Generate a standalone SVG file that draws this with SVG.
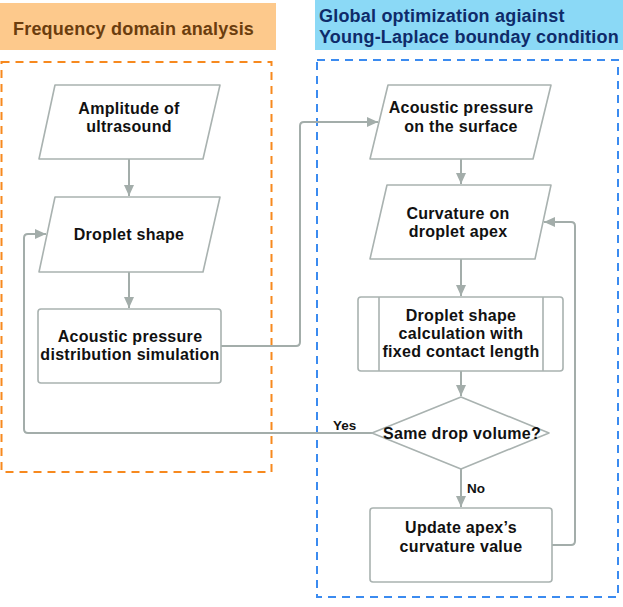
<svg xmlns="http://www.w3.org/2000/svg" width="623" height="607" viewBox="0 0 623 607">
<defs>
<marker id="ah" markerUnits="userSpaceOnUse" markerWidth="11" markerHeight="10" refX="11" refY="5" orient="auto">
<path d="M0,0 L11,5 L0,10 z" fill="#a3adaa"/>
</marker>
<style>
.node{fill:#fff;stroke:#a9b2b0;stroke-width:1.6;stroke-linejoin:round}
.t{font-family:"Liberation Sans",Arial,sans-serif;font-weight:bold;font-size:16px;letter-spacing:0.3px;fill:#111;text-anchor:middle}
.lbl{font-family:"Liberation Sans",Arial,sans-serif;font-weight:bold;font-size:13.5px;fill:#111}
.hd{font-family:"Liberation Sans",Arial,sans-serif;font-weight:bold;font-size:18px;letter-spacing:0.2px}
.con{fill:none;stroke:#a3adaa;stroke-width:2}
</style>
</defs>
<rect width="623" height="607" fill="#fff"/>
<g id="hdr-left">
<rect x="0" y="3" width="276" height="47" fill="#fdc98c"/>
<text class="hd" x="13" y="35" fill="#6b3d0e">Frequency domain analysis</text>
</g>
<g id="hdr-right">
<rect x="315" y="0" width="308" height="50" fill="#8bd9f6"/>
<text class="hd" x="319" y="22" fill="#0e2b6a">Global optimization agiainst</text>
<text class="hd" x="319" y="43" fill="#0e2b6a">Young-Laplace bounday condition</text>
</g>
<g id="group-left">
<rect x="1.5" y="62" width="270" height="410" fill="none" stroke="#f7891e" stroke-width="2" stroke-dasharray="8,6"/>
</g>
<g id="group-right">
<rect x="317" y="60" width="301" height="537" fill="none" stroke="#3b8bf0" stroke-width="2" stroke-dasharray="8,6"/>
</g>
<g id="connectors">
<path class="con" d="M129,159 V196" marker-end="url(#ah)"/>
<path class="con" d="M129,272 V308" marker-end="url(#ah)"/>
<path class="con" d="M221,346 H296 Q300,346 300,342 V126 Q300,122 304,122 H378" marker-end="url(#ah)"/>
<path class="con" d="M461,159 V184" marker-end="url(#ah)"/>
<path class="con" d="M461,259 V296" marker-end="url(#ah)"/>
<path class="con" d="M461,371 V396" marker-end="url(#ah)"/>
<path class="con" d="M461,469 V507" marker-end="url(#ah)"/>
<path class="con" d="M372,433 H28 Q24,433 24,429 V238 Q24,234 28,234 H46" marker-end="url(#ah)"/>
<path class="con" d="M552,545 H571 Q575,545 575,541 V226 Q575,222 571,222 H544" marker-end="url(#ah)"/>
</g>
<g id="n-amplitude">
<path class="node" d="M55,85 H220 L203,159 H39 Z"/>
<text class="t" x="129" y="114">Amplitude of</text>
<text class="t" x="129" y="132">ultrasound</text>
</g>
<g id="n-droplet-shape">
<path class="node" d="M55,197 H220 L203,272 H39 Z"/>
<text class="t" x="129" y="240">Droplet shape</text>
</g>
<g id="n-simulation">
<rect class="node" x="38" y="309" width="183" height="74" rx="3"/>
<text class="t" x="130" y="342">Acoustic pressure</text>
<text class="t" x="130" y="360">distribution simulation</text>
</g>
<g id="n-pressure-surface">
<path class="node" d="M388,85 H551 L533,159 H370 Z"/>
<text class="t" x="461" y="113">Acoustic pressure</text>
<text class="t" x="461" y="132">on the surface</text>
</g>
<g id="n-curvature">
<path class="node" d="M387,185 H551 L535,259 H370 Z"/>
<text class="t" x="458" y="219">Curvature on</text>
<text class="t" x="458" y="237">droplet apex</text>
</g>
<g id="n-calc">
<rect class="node" x="358" y="297" width="205" height="74" rx="3"/>
<line x1="379" y1="297" x2="379" y2="371" stroke="#a9b2b0" stroke-width="1.6"/>
<line x1="543" y1="297" x2="543" y2="371" stroke="#a9b2b0" stroke-width="1.6"/>
<text class="t" x="461" y="321">Droplet shape</text>
<text class="t" x="461" y="339">calculation with</text>
<text class="t" x="461" y="357">fixed contact length</text>
</g>
<g id="n-decision">
<path class="node" d="M461,397 L549,433 L461,469 L372,433 Z"/>
<text class="t" x="462" y="439">Same drop volume?</text>
<text class="lbl" x="333" y="430">Yes</text>
<text class="lbl" x="467" y="493">No</text>
</g>
<g id="n-update">
<rect class="node" x="370" y="508" width="182" height="74" rx="3"/>
<text class="t" x="461" y="533">Update apex’s</text>
<text class="t" x="461" y="552">curvature value</text>
</g>
</svg>
